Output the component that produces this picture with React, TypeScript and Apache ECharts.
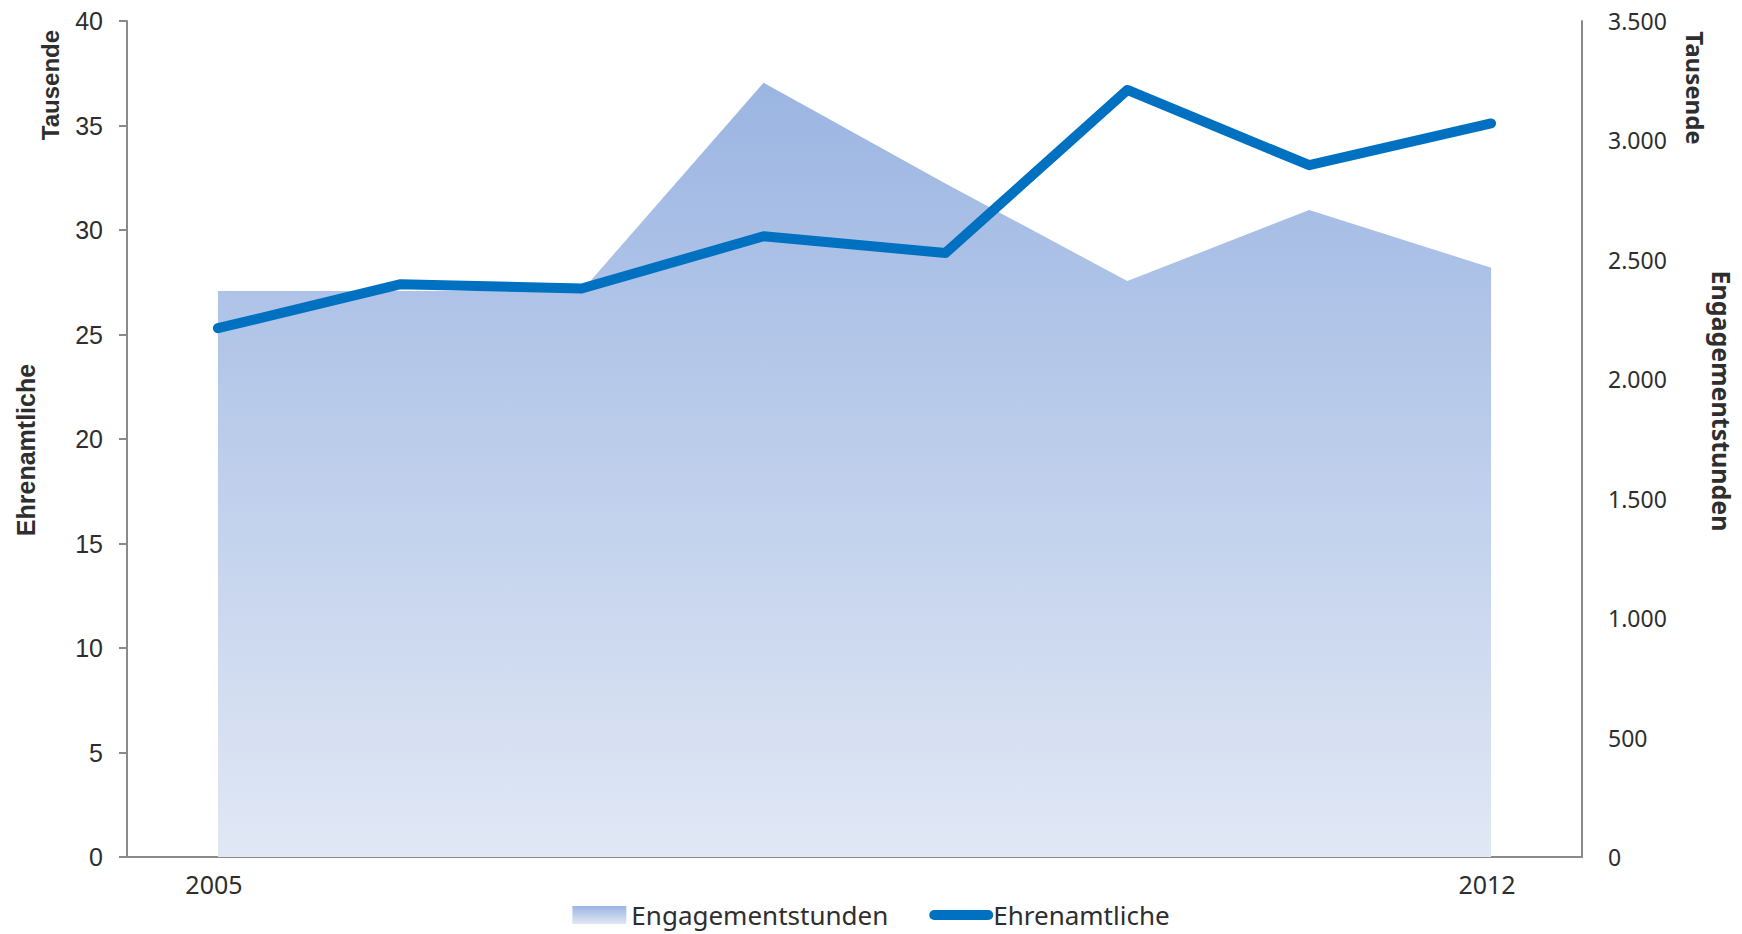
import React, { useEffect, useRef } from "react";
import * as echarts from "echarts";

const years = ["2005", "2006", "2007", "2008", "2009", "2010", "2011", "2012"];
const ehrenamtliche = [25.3, 27.4, 27.2, 29.7, 28.9, 36.7, 33.1, 35.1];
const engagementstunden = [2370, 2370, 2370, 3242, 2820, 2411, 2709, 2467];
const leftTicks = { min: 0, max: 40, interval: 5 };
const rightTicks = { min: 0, max: 3500, interval: 500 };

const fmtDe = (v: number) => {
  const s = String(Math.round(v));
  return s.replace(/\B(?=(\d{3})+(?!\d))/g, ".");
};

const areaGradient = () =>
  new echarts.graphic.LinearGradient(0, 0, 0, 1, [
    { offset: 0, color: "#9bb5e2" },
    { offset: 1, color: "#e1e8f5" },
  ]);

export default function App() {
  const ref = useRef<HTMLDivElement>(null);
  useEffect(() => {
    if (!ref.current) return;
    const chart = echarts.init(ref.current, undefined, { renderer: "svg" });
    const axisGray = "#8a8a8a";
    const txt = "#2e2e2e";
    chart.setOption({
      animation: false,
      backgroundColor: "#ffffff",
      grid: { left: 127, right: 160, top: 21, bottom: 77 },
      legend: {
        left: "center",
        top: 902,
        padding: 0,
        itemWidth: 54,
        itemHeight: 18,
        itemGap: 41,
        textStyle: { fontFamily: "Noto Sans", fontSize: 26, color: txt },
        data: [
          { name: "Engagementstunden", icon: "rect", itemStyle: { color: areaGradient() } },
          {
            name: "Ehrenamtliche",
            itemStyle: { color: "rgba(0,0,0,0)", borderWidth: 0, opacity: 0 },
            lineStyle: { width: 10, cap: "round", color: "#0070c0" },
          },
        ],
      },
      xAxis: {
        type: "category",
        data: years,
        boundaryGap: true,
        axisLine: { show: true, lineStyle: { color: axisGray, width: 2 } },
        axisTick: { show: false },
        axisLabel: {
          interval: (i: number) => i === 0 || i === years.length - 1,
          margin: 14,
          padding: [0, 8, 0, 0],
          fontFamily: "Noto Sans",
          fontSize: 25,
          color: txt,
        },
        splitLine: { show: false },
      },
      yAxis: [
        {
          type: "value",
          position: "left",
          min: leftTicks.min,
          max: leftTicks.max,
          interval: leftTicks.interval,
          axisLine: { show: true, lineStyle: { color: axisGray, width: 2 } },
          axisTick: { show: true, length: 8, lineStyle: { color: axisGray, width: 2 } },
          axisLabel: { margin: 24, fontFamily: "Liberation Sans", fontSize: 25, color: txt },
          splitLine: { show: false },
        },
        {
          type: "value",
          position: "right",
          min: rightTicks.min,
          max: rightTicks.max,
          interval: rightTicks.interval,
          axisLine: { show: true, lineStyle: { color: axisGray, width: 2 } },
          axisTick: { show: false },
          axisLabel: {
            margin: 26,
            fontFamily: "Noto Sans",
            fontSize: 23,
            color: txt,
            formatter: (v: number) => fmtDe(v),
          },
          splitLine: { show: false },
        },
      ],
      series: [
        {
          name: "Engagementstunden",
          type: "line",
          yAxisIndex: 1,
          data: engagementstunden,
          symbol: "none",
          lineStyle: { width: 0, color: "#9bb5e2" },
          itemStyle: { color: "#9bb5e2" },
          areaStyle: { color: areaGradient(), opacity: 1 },
          z: 1,
        },
        {
          name: "Ehrenamtliche",
          type: "line",
          yAxisIndex: 0,
          data: ehrenamtliche,
          symbol: "none",
          lineStyle: { width: 10, color: "#0070c0", cap: "round", join: "round" },
          itemStyle: { color: "#0070c0" },
          z: 3,
        },
      ],
      graphic: [
        {
          type: "text",
          x: 50,
          y: 85,
          rotation: Math.PI / 2,
          style: {
            text: "Tausende",
            font: "bold 24px 'Liberation Sans'",
            fill: txt,
            textAlign: "center",
            textVerticalAlign: "middle",
          },
        },
        {
          type: "text",
          x: 26,
          y: 450,
          rotation: Math.PI / 2,
          style: {
            text: "Ehrenamtliche",
            font: "bold 25px 'Liberation Sans'",
            fill: txt,
            textAlign: "center",
            textVerticalAlign: "middle",
          },
        },
        {
          type: "text",
          x: 1695,
          y: 88,
          rotation: -Math.PI / 2,
          style: {
            text: "Tausende",
            font: "bold 24px 'Noto Sans'",
            fill: txt,
            textAlign: "center",
            textVerticalAlign: "middle",
          },
        },
        {
          type: "text",
          x: 1722,
          y: 401,
          rotation: -Math.PI / 2,
          style: {
            text: "Engagementstunden",
            font: "bold 25px 'Noto Sans'",
            fill: txt,
            textAlign: "center",
            textVerticalAlign: "middle",
          },
        },
      ],
    });
    return () => chart.dispose();
  }, []);
  return (
    <div
      ref={ref}
      style={{ position: "fixed", left: 0, top: 0, width: 1742, height: 934 }}
    />
  );
}
